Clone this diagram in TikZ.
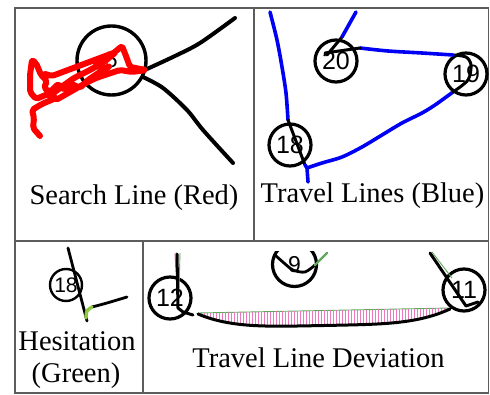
\documentclass[tikz,border=0pt]{standalone}
\usepackage{fontspec}
\setmainfont{Liberation Serif}
\newfontfamily\stopfont{Liberation Sans}
\usetikzlibrary{calc}
\definecolor{pnframe}{HTML}{5C5C5C}
\definecolor{pnred}{HTML}{FF0000}
\definecolor{pnblue}{HTML}{0000F5}
\definecolor{pngreen}{HTML}{8DC63F}
\definecolor{pnpink}{HTML}{EE78C0}
\definecolor{pnchord}{HTML}{5FA85A}

\begin{document}
\begin{tikzpicture}[
  x=1pt, y=-1pt,
  declare function={chordy(\x)=313-5*(\x-198)/252; devu(\x)=2*(\x-198)/252-1;
    sagy(\x)=chordy(\x)+1+14*(1-devu(\x)*devu(\x)*devu(\x)*devu(\x));},
  panel/.style={draw=pnframe, line width=1.4pt},
  caption/.style={font=\fontsize{28.5}{32}\selectfont, anchor=base, inner sep=0pt},
  stop/.style={circle, draw=black, line width=3.2pt, inner sep=0pt, minimum size=42pt,
    font=\stopfont\fontsize{25}{25}\selectfont},
  track/.style={draw=black, line width=3.2pt, line cap=round, line join=round},
  search/.style={track, draw=pnred, line width=6pt},
  travel/.style={track, draw=pnblue, line width=3.6pt},
  hesitate/.style={track, draw=pngreen, line width=3.4pt},
  chord/.style={draw=pnchord, line width=0.9pt},
  hatch/.style={draw=pnpink, line width=1pt}
]
\useasboundingbox (0,0) rectangle (490,395);
\draw[panel] (15,8) rectangle (488.5,241);
\draw[panel] (254,8) -- (254,241);
\draw[panel] (15,241) rectangle (488.5,393);
\draw[panel] (143,241) -- (143,393);

\node[stop, minimum size=69pt, line width=3.4pt, font=\stopfont\fontsize{22}{22}\selectfont] (s5) at (111.5,60.5) {5};
\draw[track, line width=4pt] plot[smooth] coordinates {(147,69) (175,56) (200,43) (235,18)};
\draw[track, line width=4pt] plot[smooth] coordinates {(143,77) (163,88) (187,110) (203,130) (233,163)};
\draw[search, rounded corners=2pt] (40,136) -- (33,128) -- (34,118) -- (32,110) -- (42,104) -- (56,98)
  -- (48,94) -- (36,99) -- (30,92) -- (30,75) -- (32,60) -- (36,63) -- (41,75) -- (47,81) -- (44,88)
  -- (50,92) -- (58,84) -- (64,90) -- (72,84) -- (80,88) -- (88,80) -- (100,72) -- (110,66) -- (102,70)
  -- (95,62) -- (110,56) -- (122,46) -- (126,56) -- (130,67) -- (146,70) -- (132,72) -- (120,70)
  -- (108,74) -- (96,78) -- (84,84) -- (70,92) -- (56,100) -- (50,96) -- (60,88) -- (74,78) -- (90,70)
  -- (104,62) -- (116,52) -- (100,58) -- (84,64) -- (68,70) -- (52,76) -- (45,74);
\node[caption] (capsearch) at (134,205) {Search Line (Red)};

\node[stop] (s20) at (336,61) {20};
\node[stop] (s19) at (466,74) {19};
\node[stop] (s18) at (290,145) {18};
\draw[travel] plot[smooth] coordinates {(270,12) (277,40) (282,67) (286,93) (288,120)};
\draw[track, line width=3pt] (288,120) -- (305,165);
\draw[travel] (305,165) -- (307,168) -- (308,182);
\draw[travel] plot[smooth] coordinates {(307,168) (322,163) (342,157) (362,147) (382,135) (402,123)
  (422,113) (435,105) (453,92)};
\draw[track, line width=3pt] plot[smooth, tension=0.5] coordinates {(453,92) (468,80) (471,65) (466,57) (453,55)};
\draw[travel] plot[smooth] coordinates {(453,55) (422,53) (388,51) (360,48)};
\draw[track, line width=3pt] (360,48) -- (325,53);
\draw[track, line width=3pt] (327,55) -- (342,37);
\draw[travel] (342,37) -- (356,12);
\node[caption] (captravel) at (372.5,203) {Travel Lines (Blue)};

\node[stop, minimum size=32pt, line width=2.4pt, font=\stopfont\fontsize{21}{21}\selectfont] (h18) at (66,285) {18};
\draw[track, line width=2.8pt] (68,248) -- (87,321);
\draw[track, line width=2.8pt] plot[smooth] coordinates {(92,307) (107,303) (127,297)};
\draw[hesitate] plot[smooth] coordinates {(86,318) (87,311) (92,307)};
\node[caption] (caphes) at (77,350) {Hesitation};
\node[caption] (capgreen) at (76,382) {(Green)};

\node[stop] (d12) at (170,298) {12};
\node[stop] (d11) at (464,290) {11};
\begin{scope}
  \clip (250,252) rectangle (340,300);
  \node[stop, minimum size=44pt, font=\stopfont\fontsize{23}{23}\selectfont] (d9) at (294.5,264.5) {9};
\end{scope}
\draw[track, line width=2.8pt] plot[smooth] coordinates {(275,255) (284,263) (293,270) (305,272) (315,265)};
\draw[chord, line width=2.4pt, line cap=round] (315,265) -- (327,253);
\draw[chord] (198,313) -- (450,308);
\foreach \hx in {201,204,...,447}
  \draw[hatch] (\hx,{chordy(\hx)}) -- (\hx,{sagy(\hx)});
\draw[track, line width=3pt] plot[domain=198:450, samples=60] (\x,{sagy(\x)});
\draw[hatch] (175,253) -- (176,272);
\draw[chord] (180,253) -- (179,290);
\draw[track, line width=3pt] (177,254) -- (178,308) -- (183,312) -- (193,315);
\draw[chord] (432,252) -- (452,278);
\draw[track, line width=3pt] (430,253) -- (466,306) -- (478,302);
\node[caption] (capdev) at (318.5,367) {Travel Line Deviation};
\end{tikzpicture}
\end{document}
